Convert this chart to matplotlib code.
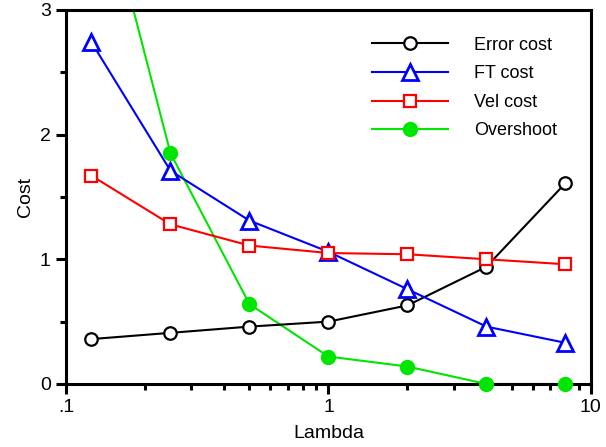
import numpy as np
import matplotlib.pyplot as plt
from matplotlib.lines import Line2D
from matplotlib.ticker import FixedLocator, LogLocator, NullFormatter

plt.rcParams['font.family'] = ['Liberation Sans', 'DejaVu Sans']

lam = np.array([0.125, 0.25, 0.5, 1, 2, 4, 8])
error_cost = [0.36, 0.41, 0.46, 0.50, 0.63, 0.94, 1.61]
ft_cost = [2.74, 1.71, 1.31, 1.06, 0.76, 0.46, 0.33]
vel_cost = [1.67, 1.28, 1.11, 1.05, 1.04, 1.00, 0.96]
overshoot = np.array([4.3, 1.85, 0.64, 0.22, 0.14, 0.0, 0.0])

green = '#00e600'

fig = plt.figure(figsize=(6.06, 4.47), dpi=100)
ax = fig.add_axes([0.109, 0.141, 0.866, 0.837])

ax.plot(lam, error_cost, color='black', lw=1.5, marker='o', ms=9, mfc='white', mew=1.6, clip_on=False, zorder=3)
ax.plot(lam, ft_cost, color='blue', lw=1.5, marker='^', ms=12, mfc='white', mew=2, clip_on=False, zorder=3)
ax.plot(lam, vel_cost, color='red', lw=1.5, marker='s', ms=9, mfc='white', mew=1.6, clip_on=False, zorder=3)
# overshoot line is clipped at the top, markers inside the range are drawn whole
ax.plot(lam, overshoot, color=green, lw=1.5, zorder=2)
inside = overshoot <= 3
ax.plot(lam[inside], overshoot[inside], ls='none', marker='o', ms=10, color=green, clip_on=False, zorder=4)

ax.set_xscale('log')
ax.set_xlim(0.1, 10)
ax.set_ylim(0, 3)
ax.xaxis.set_major_locator(FixedLocator([0.1, 1, 10]))
ax.set_xticklabels(['.1', '1', '10'])
ax.xaxis.set_minor_locator(LogLocator(base=10, subs=np.arange(2, 10)))
ax.xaxis.set_minor_formatter(NullFormatter())
ax.set_yticks([0, 1, 2, 3])
ax.set_yticks([0.5, 1.5, 2.5], minor=True)

for s in ax.spines.values():
    s.set_linewidth(2.2)
    s.set_color('black')

ax.tick_params(which='major', direction='out', length=7, width=2.2, labelsize=14, pad=4)
ax.tick_params(which='minor', direction='out', length=4, width=2.2)

ax.set_xlabel('Lambda', fontsize=14, labelpad=6)
ax.set_ylabel('Cost', fontsize=14, labelpad=4)

handles = [
    Line2D([], [], color='black', lw=1.5, marker='o', ms=9, mfc='white', mew=1.6),
    Line2D([], [], color='blue', lw=1.5, marker='^', ms=12, mfc='white', mew=2),
    Line2D([], [], color='red', lw=1.5, marker='s', ms=9, mfc='white', mew=1.6),
    Line2D([], [], color=green, lw=1.5, marker='o', ms=10),
]
labels = ['Error cost', 'FT cost', 'Vel cost', 'Overshoot']
ax.legend(handles, labels, loc='upper left', bbox_to_anchor=(0.583, 0.928), frameon=False,
          fontsize=13, handlelength=4.2, handletextpad=1.45, labelspacing=0.64,
          borderpad=0, borderaxespad=0)

fig.savefig('out.png', dpi=100)
